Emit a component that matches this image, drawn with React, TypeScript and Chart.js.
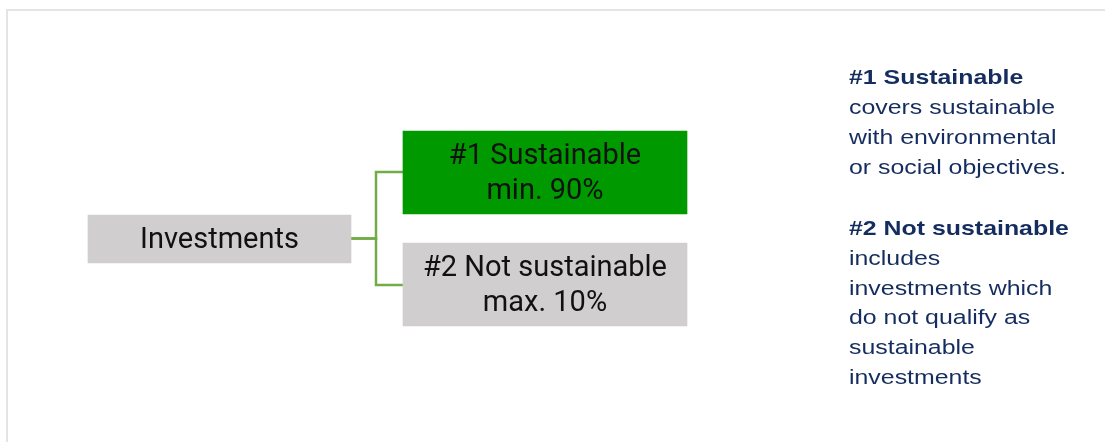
import React, { useEffect, useRef } from "react";
import { Chart, registerables } from "chart.js";

Chart.register(...registerables);

// Diagram boxes (layout units of the diagram's own x / y scales)
const boxLabels = [["Investments"], ["#1 Sustainable", "min. 90%"], ["#2 Not sustainable", "max. 10%"]];
const boxStart = [88, 403, 403];
const boxEnd = [351, 687, 687];
const boxCenterY = [239, 172.5, 284.5];

// Connector branches (tree lines from Investments to the two categories)
const branchUpperX = [351, 376, 376, 403];
const branchUpperY = [238.5, 238.5, 172, 172];
const branchLowerX = [351, 376, 376, 403];
const branchLowerY = [238.5, 238.5, 285, 285];

// Notes on the right
const noteTitles = ["#1 Sustainable", "#2 Not sustainable"];
const noteBodies = [
  ["covers sustainable", "with environmental", "or social objectives."],
  ["includes", "investments which", "do not qualify as", "sustainable", "investments"],
];
const noteBaselines = [84, 235];

const boxColors = ["#D0CECE", "#009A00", "#D0CECE"];
const boxThickness = [48, 83, 83];

export default function App() {
  const ref = useRef<HTMLCanvasElement | null>(null);

  useEffect(() => {
    if (!ref.current) return;

    const textPlugin = {
      id: "diagramText",
      afterDatasetsDraw(chart: any) {
        const ctx = chart.ctx;
        const xs = chart.scales.x;
        const ys = chart.scales.y;
        ctx.save();
        // box labels
        ctx.fillStyle = "#111111";
        ctx.font = '29px Roboto, "Noto Sans", sans-serif';
        ctx.textAlign = "center";
        ctx.textBaseline = "alphabetic";
        boxLabels.forEach((lines, i) => {
          const meta = chart.getDatasetMeta(i);
          const el = meta.data[0];
          if (!el) return;
          const cx = (el.x + el.base) / 2;
          const cy = el.y;
          const lh = 34.3;
          const n = lines.length;
          lines.forEach((t, j) => {
            ctx.fillText(t, cx, cy + 9 + (j - (n - 1) / 2) * lh);
          });
        });
        // notes
        ctx.textAlign = "left";
        ctx.fillStyle = "#142D5E";
        const nx = xs.getPixelForValue(849);
        const sx = 1.214;
        noteTitles.forEach((title, i) => {
          const by = ys.getPixelForValue(noteBaselines[i]);
          const lh = i === 0 ? 30 : 29.8;
          ctx.save();
          ctx.translate(nx, by);
          ctx.scale(sx, 1);
          ctx.font = 'bold 20.5px "Liberation Sans", Arial, sans-serif';
          ctx.fillText(title, 0, 0);
          ctx.font = '20.5px "Liberation Sans", Arial, sans-serif';
          noteBodies[i].forEach((t, j) => {
            ctx.fillText(t, 0, (j + 1) * lh);
          });
          ctx.restore();
        });
        ctx.restore();
      },
    };

    const boxDatasets = boxLabels.map((lines, i) => ({
      type: "bar" as const,
      label: lines.join(" "),
      data: [{ x: [boxStart[i], boxEnd[i]], y: boxCenterY[i] }],
      backgroundColor: boxColors[i],
      borderWidth: 0,
      barThickness: boxThickness[i],
      grouped: false,
      indexAxis: "y" as const,
      order: 1,
    }));

    const mkLine = (xs: number[], ys: number[], label: string) => ({
      type: "line" as const,
      label,
      data: xs.map((x, k) => ({ x, y: ys[k] })),
      borderColor: "#70AD47",
      borderWidth: 2.5,
      pointRadius: 0,
      fill: false,
      tension: 0,
      indexAxis: "y" as const,
      order: 2,
    });

    const chart = new Chart(ref.current, {
      type: "bar",
      data: {
        datasets: [
          ...boxDatasets,
          mkLine(branchUpperX, branchUpperY, "upper"),
          mkLine(branchLowerX, branchLowerY, "lower"),
        ] as any,
      },
      options: {
        animation: false,
        responsive: true,
        maintainAspectRatio: false,
        indexAxis: "y",
        events: [],
        layout: { padding: 0, autoPadding: false },
        plugins: { legend: { display: false }, tooltip: { enabled: false } },
        scales: {
          x: { type: "linear", min: 0, max: 1105, display: false, offset: false },
          y: { type: "linear", min: 0, max: 442, reverse: true, display: false, offset: false },
        },
      },
      plugins: [textPlugin],
    });
    return () => chart.destroy();
  }, []);

  return (
    <div style={{ position: "fixed", left: 0, top: 0, width: 1105, height: 442, background: "#ffffff" }}>
      <div
        style={{
          position: "absolute",
          left: 6,
          top: 9,
          right: 0,
          bottom: 0,
          borderTop: "2px solid #E4E4E4",
          borderLeft: "2px solid #E4E4E4",
        }}
      />
      <canvas ref={ref} style={{ position: "absolute", left: 0, top: 0 }} />
    </div>
  );
}
